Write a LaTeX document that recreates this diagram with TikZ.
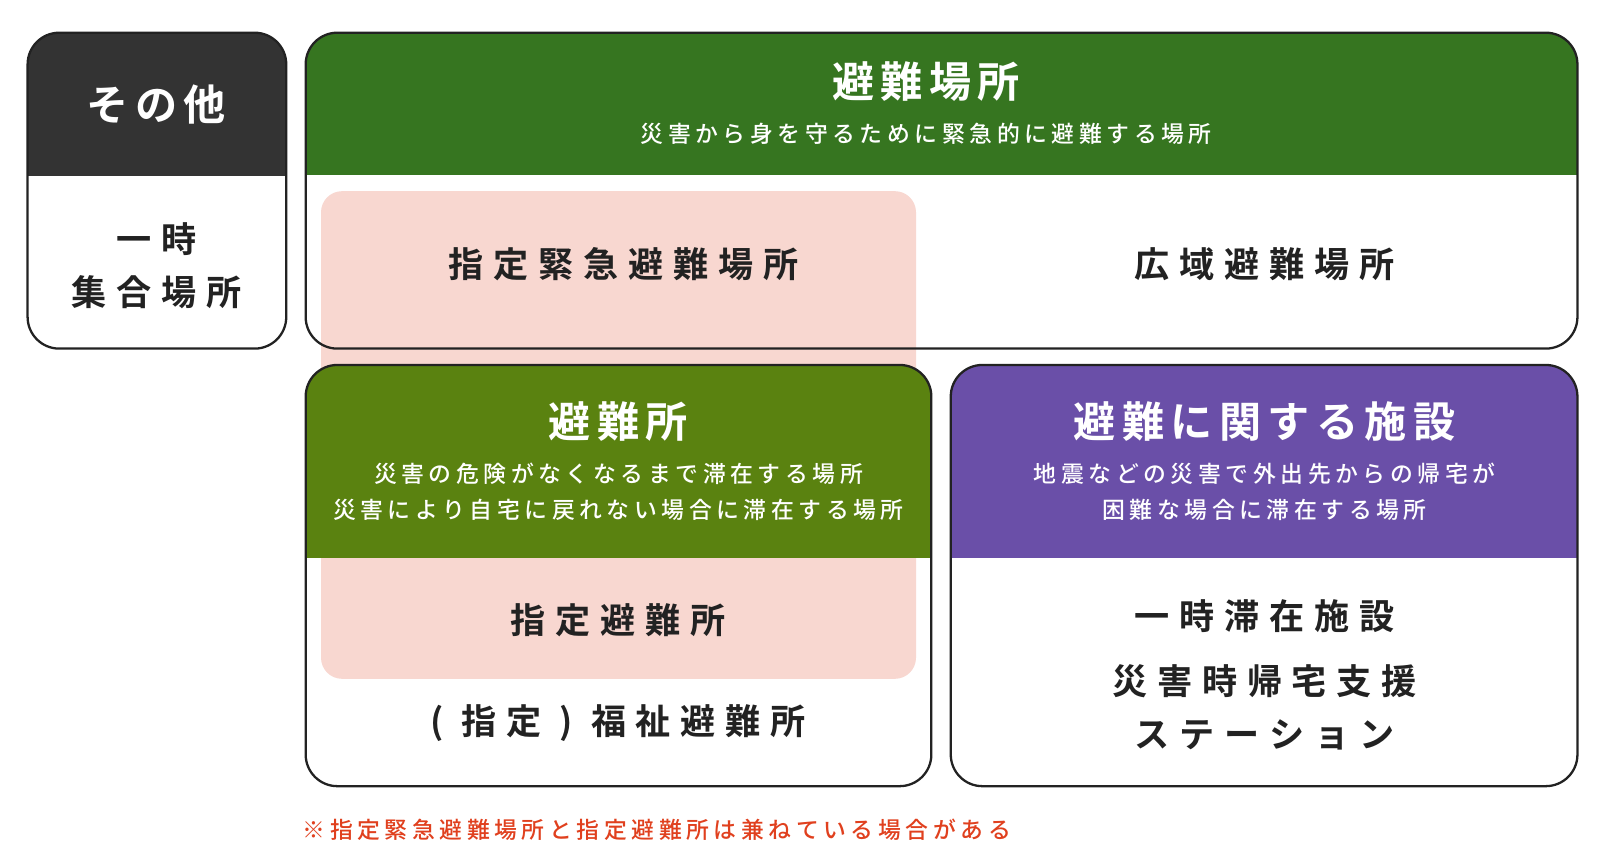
\documentclass[tikz,border=0pt]{standalone}
\usepackage{fontspec}
\setmainfont{Noto Sans CJK JP}
\newfontfamily\jptitle{Noto Sans CJK JP Bold}[LetterSpace=15]
\newfontfamily\jpbody{Noto Sans CJK JP Bold}[LetterSpace=28]
\newfontfamily\jpsub{Noto Sans CJK JP Medium}[LetterSpace=20]
\usetikzlibrary{positioning}
\definecolor{darkhead}{HTML}{333333}
\definecolor{placegreen}{HTML}{367520}
\definecolor{shelgreen}{HTML}{5A8210}
\definecolor{facpurple}{HTML}{6A4FA8}
\definecolor{pinkband}{HTML}{F8D7D0}
\definecolor{textgray}{HTML}{222222}
\definecolor{noteorange}{HTML}{E0401E}
\begin{document}
\begin{tikzpicture}[x=0.02045cm,y=-0.02045cm]
    \tikzset{
        boxline/.style={draw=textgray, line width=1.3pt, rounded corners=18},
        headtitle/.style={text=white, font=\jptitle\fontsize{24}{27}\selectfont},
        headsub/.style={text=white, font=\jpsub\fontsize{13}{20}\selectfont, align=center},
        bodylabel/.style={text=textgray, font=\jpbody\fontsize{20}{30}\selectfont, align=center}
    }
    \useasboundingbox (0cm,0cm) rectangle (32cm,-17.36cm);

    % white fills of the boxes
    \foreach \xa/\ya/\xb/\yb in {27/32/280/341, 299/32/1543/341, 299/357/911/769, 930/357/1543/769}
        \fill[white, rounded corners=18] (\xa,\ya) rectangle (\xb,\yb);

    % pink band behind the two designated places
    \fill[pinkband, rounded corners=12] (314,187) rectangle (896,664);

    % headers
    \begin{scope}
        \clip[rounded corners=18] (27,32) rectangle (280,341);
        \fill[darkhead] (27,32) rectangle (280,172);
    \end{scope}
    \begin{scope}
        \clip[rounded corners=18] (299,32) rectangle (1543,341);
        \fill[placegreen] (299,32) rectangle (1543,171);
    \end{scope}
    \begin{scope}
        \clip[rounded corners=18] (299,357) rectangle (911,769);
        \fill[shelgreen] (299,357) rectangle (911,546);
    \end{scope}
    \begin{scope}
        \clip[rounded corners=18] (930,357) rectangle (1543,769);
        \fill[facpurple] (930,357) rectangle (1543,546);
    \end{scope}

    % outlines
    \draw[boxline] (27,32) rectangle (280,341);
    \draw[boxline] (299,32) rectangle (1543,341);
    \draw[boxline] (299,357) rectangle (911,769);
    \draw[boxline] (930,357) rectangle (1543,769);

    % texts
    \node[headtitle] (other) at (153,102) {その他};
    \node[bodylabel] (gather) at (153,260) {一時\\集合場所};

    \node[headtitle] (place) at (906,80) {避難場所};
    \node[headsub] (placesub) at (906,131) {災害から身を守るために緊急的に避難する場所};
    \node[bodylabel] (emerg) at (610,258) {指定緊急避難場所};
    \node[bodylabel] (wide) at (1237,258) {広域避難場所};

    \node[headtitle] (shelter) at (605,412) {避難所};
    \node[headsub] (sheltersub) at (605,481) {災害の危険がなくなるまで滞在する場所\\災害により自宅に戻れない場合に滞在する場所};
    \node[bodylabel] (desig) at (605,607) {指定避難所};
    \node[bodylabel] (welfare) at (605,707) {(\ 指定\ )\ 福祉避難所};

    \node[headtitle] (facility) at (1237,412) {避難に関する施設};
    \node[headsub] (facsub) at (1237,481) {地震などの災害で外出先からの帰宅が\\困難な場合に滞在する場所};
    \node[bodylabel] (stay) at (1237,603) {一時滞在施設};
    \node[bodylabel] (station) at (1237,692) {災害時帰宅支援\\ステーション};

    \node[anchor=west, text=noteorange, font=\jpsub\fontsize{13}{15}\selectfont] (note) at (290,812)
        {※指定緊急避難場所と指定避難所は兼ねている場合がある};
\end{tikzpicture}
\end{document}
